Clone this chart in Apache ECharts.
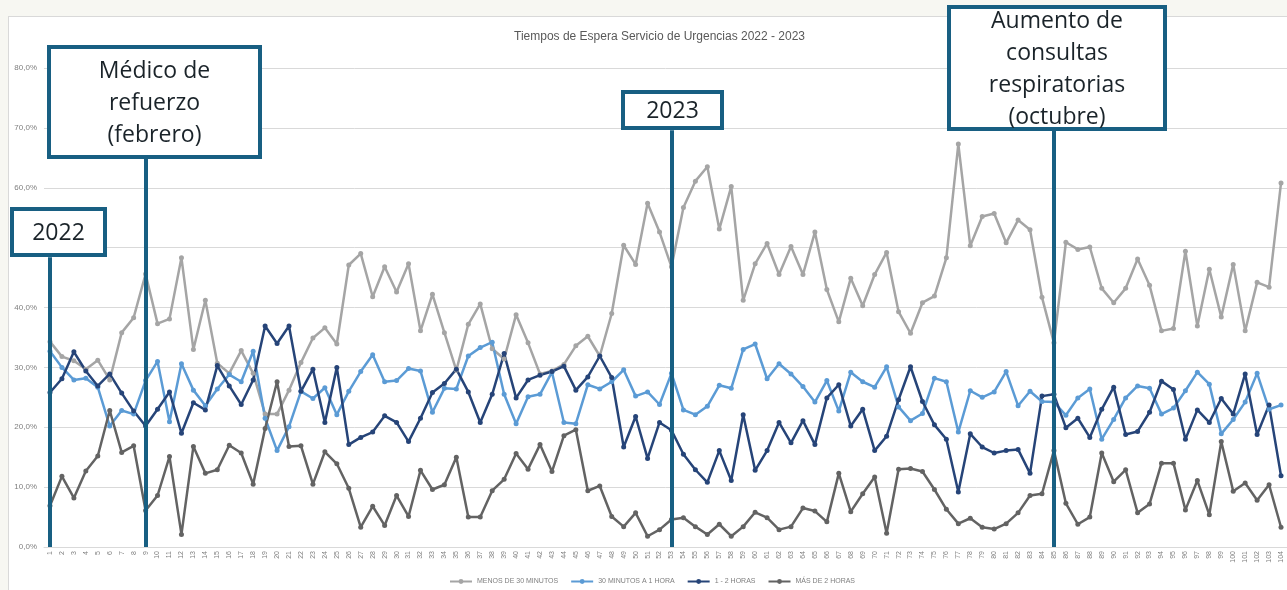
<!DOCTYPE html>
<html>
<head>
<meta charset="utf-8">
<script src="https://cdn.jsdelivr.net/npm/echarts@6/dist/echarts.min.js"></script>
<style>
  html, body { margin: 0; padding: 0; background: #f7f7f2; }
  #frame { position: absolute; left: 8px; top: 16px; width: 1300px; height: 600px; background: #fff; border: 1px solid #d9d9d9; }
  #echarts-tiempos-espera { position: absolute; left: 0; top: 0; width: 1287px; height: 590px; }
</style>
</head>
<body>
<div id="frame"></div>
<div id="echarts-tiempos-espera"></div>
<script>
// semanas 1..104 (2022 - 2023)
const semanas = Array.from({length: 104}, (_, i) => String(i + 1));

const menos_30_minutos = [
    34.3, 31.8, 31.1, 29.7, 31.2, 27.9, 35.8, 38.3, 45.6, 37.3, 38.1, 48.3, 33.0, 41.2, 30.7, 29.0, 32.8, 29.0, 22.2, 22.2,
    26.2, 30.8, 34.9, 36.6, 33.9, 47.1, 49.0, 41.8, 46.8, 42.6, 47.3, 36.1, 42.2, 35.8, 29.5, 37.2, 40.6, 33.1, 31.4, 38.8,
    34.1, 28.9, 29.4, 30.5, 33.6, 35.2, 31.9, 39.0, 50.4, 47.2, 57.4, 52.6, 46.8, 56.7, 61.1, 63.5, 53.1, 60.2, 41.2, 47.3,
    50.7, 45.5, 50.2, 45.5, 52.6, 43.0, 37.6, 44.9, 40.3, 45.5, 49.2, 39.3, 35.7, 40.8, 41.9, 48.3, 67.3, 50.3, 55.2, 55.7,
    50.8, 54.6, 53.0, 41.7, 34.1, 50.9, 49.7, 50.1, 43.2, 40.8, 43.2, 48.1, 43.7, 36.1, 36.5, 49.4, 36.9, 46.4, 38.4, 47.2,
    36.1, 44.2, 43.4, 60.8
];
const de_30_minutos_a_1_hora = [
    32.7, 30.0, 27.9, 28.2, 26.7, 20.2, 22.8, 22.2, 27.8, 31.0, 20.9, 30.6, 26.2, 23.6, 26.4, 28.8, 27.6, 32.7, 21.5, 16.1,
    20.1, 26.0, 24.8, 26.6, 22.1, 26.0, 29.3, 32.1, 27.6, 27.8, 29.8, 29.4, 22.5, 26.5, 26.4, 31.9, 33.3, 34.2, 25.5, 20.6,
    25.1, 25.5, 29.2, 20.8, 20.6, 27.1, 26.4, 27.6, 29.6, 25.2, 25.9, 23.8, 29.0, 22.9, 22.1, 23.5, 27.0, 26.5, 33.0, 33.9,
    28.1, 30.6, 28.9, 26.8, 24.2, 27.8, 22.7, 29.2, 27.6, 26.7, 30.1, 23.4, 21.1, 22.3, 28.2, 27.6, 19.2, 26.1, 25.0, 25.9,
    29.3, 23.6, 26.0, 24.3, 24.2, 22.0, 24.9, 26.4, 18.0, 21.3, 24.9, 26.9, 26.5, 22.2, 23.2, 26.1, 29.2, 27.2, 18.9, 21.3,
    24.2, 29.0, 23.0, 23.7
];
const de_1_a_2_horas = [
    25.8, 28.1, 32.6, 29.4, 26.9, 28.9, 25.7, 22.7, 20.2, 23.0, 25.9, 19.0, 24.1, 22.9, 30.3, 26.9, 23.8, 27.9, 36.9, 34.0,
    36.9, 26.0, 29.7, 20.8, 30.0, 17.1, 18.3, 19.2, 21.9, 20.8, 17.6, 21.5, 25.8, 27.3, 29.7, 25.9, 20.8, 25.5, 32.3, 24.9,
    27.9, 28.7, 29.3, 30.2, 26.2, 28.4, 31.9, 28.3, 16.7, 21.8, 14.8, 20.8, 19.5, 15.5, 12.9, 10.8, 16.1, 11.1, 22.1, 12.8,
    16.1, 20.8, 17.4, 21.1, 17.1, 24.9, 27.1, 20.2, 23.0, 16.1, 18.5, 24.6, 30.1, 24.3, 20.4, 18.0, 9.2, 18.9, 16.7, 15.7,
    16.1, 16.3, 12.3, 25.2, 25.5, 19.9, 21.5, 18.3, 23.0, 26.7, 18.8, 19.3, 22.5, 27.7, 26.3, 18.0, 22.9, 20.8, 24.8, 22.2,
    28.9, 18.8, 23.7, 11.9
];
const mas_de_2_horas = [
    6.9, 11.8, 8.2, 12.7, 15.2, 22.8, 15.8, 16.9, 6.1, 8.6, 15.1, 2.1, 16.8, 12.3, 12.9, 17.0, 15.7, 10.5, 19.8, 27.6,
    16.8, 16.9, 10.5, 15.9, 13.9, 9.8, 3.3, 6.8, 3.6, 8.6, 5.1, 12.8, 9.6, 10.4, 15.0, 5.0, 5.0, 9.4, 11.3, 15.6,
    13.0, 17.1, 12.6, 18.6, 19.6, 9.4, 10.2, 5.1, 3.4, 5.7, 1.8, 2.9, 4.6, 4.9, 3.4, 2.1, 3.8, 1.8, 3.4, 5.8,
    4.9, 2.9, 3.4, 6.5, 6.0, 4.2, 12.3, 5.9, 8.9, 11.7, 2.3, 13.0, 13.1, 12.6, 9.6, 6.3, 3.9, 4.8, 3.3, 3.0,
    3.9, 5.7, 8.6, 8.9, 16.1, 7.3, 3.8, 5.0, 15.7, 10.9, 12.9, 5.7, 7.2, 14.0, 14.0, 6.2, 11.1, 5.4, 17.6, 9.3,
    10.7, 7.8, 10.4, 3.3
];

// hitos marcados en el grafico: semana y altura (%) donde termina la linea
const hitos_semana = ['1', '9', '53', '85'];
const hitos_altura = [48.4, 64.8, 69.6, 69.5];
const hitos_texto = ['2022', 'Médico de\nrefuerzo\n(febrero)', '2023', 'Aumento de\nconsultas\nrespiratorias\n(octubre)'];

const ANNOTATION_COLOR = '#185f82';
const SMALL_FONT = '"Liberation Sans", sans-serif';
const BOX_FONT = '"Open Sans", sans-serif';

let echarts_tiempos_espera = echarts.init(document.getElementById('echarts-tiempos-espera'));

// cajas de texto de los hitos (posicion en pixeles)
const hitos_cajas = [
    {x: 12, y: 209, w: 93, h: 46},
    {x: 49, y: 47, w: 211, h: 110},
    {x: 623, y: 92, w: 99, h: 36},
    {x: 949, y: 7, w: 216, h: 122}
];

function line_series(name, color, data) {
    return {
        name: name,
        type: 'line',
        data: data,
        symbol: 'circle',
        symbolSize: 5,
        showSymbol: true,
        itemStyle: {color: color},
        lineStyle: {color: color, width: 2.5},
        emphasis: {disabled: true}
    };
}

let series = [
    line_series('MENOS DE 30 MINUTOS', '#a5a5a5', menos_30_minutos),
    line_series('30 MINUTOS A 1 HORA', '#5b9bd5', de_30_minutos_a_1_hora),
    line_series('1 - 2 HORAS', '#264478', de_1_a_2_horas),
    line_series('MÁS DE 2 HORAS', '#636363', mas_de_2_horas)
];

series[3].markLine = {
    silent: true,
    symbol: ['none', 'none'],
    label: {show: false},
    lineStyle: {color: ANNOTATION_COLOR, width: 4, type: 'solid'},
    data: hitos_semana.map((s, i) => [
        {xAxis: s, yAxis: 0},
        {xAxis: s, yAxis: hitos_altura[i]}
    ])
};

let graphic = [];
hitos_cajas.forEach(function (c, i) {
    graphic.push({
        type: 'rect',
        z: 100,
        shape: {x: c.x, y: c.y, width: c.w, height: c.h},
        style: {fill: '#fff', stroke: ANNOTATION_COLOR, lineWidth: 4}
    });
    graphic.push({
        type: 'text',
        z: 101,
        x: c.x + c.w / 2,
        y: c.y + c.h / 2 + 1,
        style: {
            text: hitos_texto[i],
            fill: '#1a2329',
            font: '23px ' + BOX_FONT,
            lineHeight: 32,
            align: 'center',
            verticalAlign: 'middle'
        }
    });
});

let echarts_options = {
    animation: false,
    title: {
        text: 'Tiempos de Espera Servicio de Urgencias 2022 - 2023',
        left: 509,
        top: 26,
        textStyle: {fontSize: 12, fontWeight: 'normal', color: '#595959', fontFamily: SMALL_FONT}
    },
    legend: {
        top: 573,
        left: 444,
        itemWidth: 22,
        itemHeight: 6,
        itemGap: 12,
        textStyle: {fontSize: 7, color: '#7f7f7f', fontFamily: SMALL_FONT}
    },
    grid: {left: 44, top: 68, width: 1245, height: 479, containLabel: false},
    xAxis: {
        type: 'category',
        data: semanas,
        boundaryGap: true,
        axisLine: {lineStyle: {color: '#d9d9d9'}},
        axisTick: {show: false},
        axisLabel: {interval: 0, rotate: 90, fontSize: 7, color: '#7f7f7f', margin: 4, fontFamily: SMALL_FONT}
    },
    yAxis: {
        type: 'value',
        min: 0,
        max: 80,
        interval: 10,
        axisLine: {show: false},
        axisTick: {show: false},
        splitLine: {lineStyle: {color: '#d9d9d9'}},
        axisLabel: {
            fontSize: 8,
            color: '#7f7f7f',
            margin: 7,
            fontFamily: SMALL_FONT,
            formatter: v => v.toFixed(1).replace('.', ',') + '%'
        }
    },
    graphic: graphic,
    series: series
};

echarts_tiempos_espera.setOption(echarts_options);

window.addEventListener('resize', function () {
    echarts_tiempos_espera?.resize();
});
</script>
</body>
</html>
